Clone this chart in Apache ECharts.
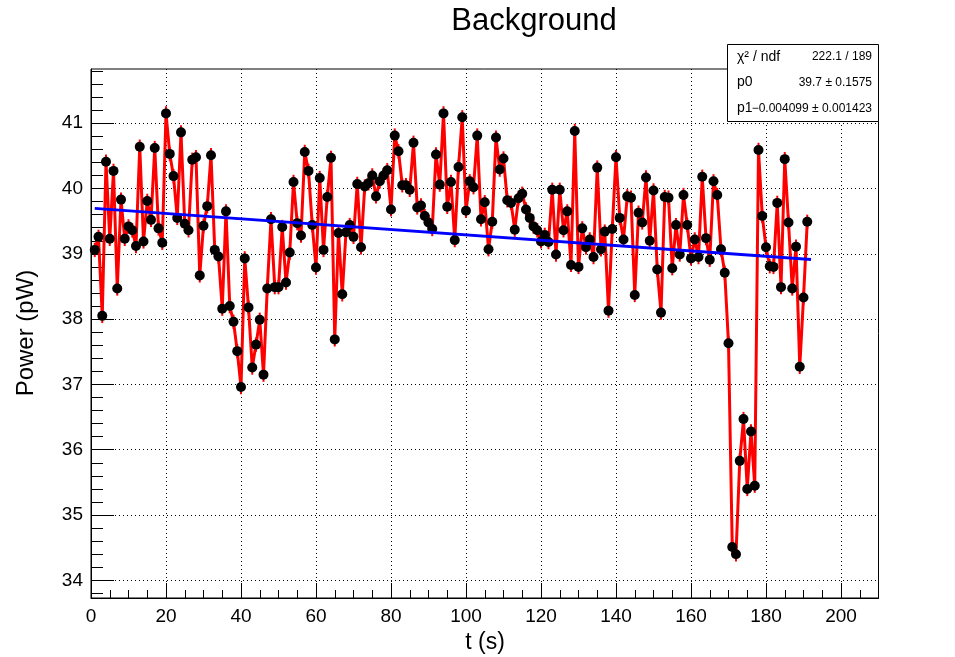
<!DOCTYPE html>
<html>
<head>
<meta charset="utf-8">
<script src="https://cdn.jsdelivr.net/npm/echarts@6/dist/echarts.min.js"></script>
<style>
  html, body { margin: 0; padding: 0; background: #fff; }
  #main { width: 955px; height: 657px; }
</style>
</head>
<body>
<div id="main"></div>
<script>
// measurement times (s)
var tValues = [
  1, 2, 3, 4, 5, 6, 7, 8, 9, 10, 11, 12, 13, 14, 15, 16, 17, 18, 19, 20,
  21, 22, 23, 24, 25, 26, 27, 28, 29, 30, 31, 32, 33, 34, 35, 36, 37, 38, 39, 40,
  41, 42, 43, 44, 45, 46, 47, 48, 49, 50, 51, 52, 53, 54, 55, 56, 57, 58, 59, 60,
  61, 62, 63, 64, 65, 66, 67, 68, 69, 70, 71, 72, 73, 74, 75, 76, 77, 78, 79, 80,
  81, 82, 83, 84, 85, 86, 87, 88, 89, 90, 91, 92, 93, 94, 95, 96, 97, 98, 99, 100,
  101, 102, 103, 104, 105, 106, 107, 108, 109, 110, 111, 112, 113, 114, 115, 116, 117, 118, 119, 120,
  121, 122, 123, 124, 125, 126, 127, 128, 129, 130, 131, 132, 133, 134, 135, 136, 137, 138, 139, 140,
  141, 142, 143, 144, 145, 146, 147, 148, 149, 150, 151, 152, 153, 154, 155, 156, 157, 158, 159, 160,
  161, 162, 163, 164, 165, 166, 167, 168, 169, 170, 171, 172, 173, 174, 175, 176, 177, 178, 179, 180,
  181, 182, 183, 184, 185, 186, 187, 188, 189, 190, 191
];
// power (pW)
var powerValues = [
  39.06, 39.26, 38.05, 40.41, 39.23, 40.27, 38.47, 39.83, 39.23, 39.42, 39.36, 39.12, 40.64, 39.19, 39.81, 39.52,
  40.62, 39.39, 39.17, 41.15, 40.53, 40.19, 39.55, 40.86, 39.46, 39.36, 40.44, 40.48, 38.67, 39.43, 39.73, 40.51,
  39.06, 38.96, 38.16, 39.65, 38.20, 37.96, 37.51, 36.96, 38.93, 38.18, 37.26, 37.61, 37.99, 37.15, 38.47, 39.53,
  38.49, 38.49, 39.41, 38.56, 39.02, 40.10, 39.47, 39.28, 40.56, 40.27, 39.44, 38.79, 40.16, 39.06, 39.87, 40.47,
  37.69, 39.32, 38.38, 39.33, 39.44, 39.26, 40.07, 39.10, 40.03, 40.08, 40.20, 39.88, 40.11, 40.20, 40.28, 39.68,
  40.81, 40.57, 40.05, 40.05, 39.98, 40.70, 39.71, 39.74, 39.58, 39.48, 39.38, 40.52, 40.06, 41.15, 39.72,
  40.10, 39.21, 40.33, 41.09, 39.66, 40.11, 40.02, 40.81, 39.53, 39.79, 39.07, 39.49, 40.78, 40.29, 40.46, 39.82,
  39.78, 39.37, 39.85, 39.92, 39.68, 39.55, 39.42, 39.36, 39.19, 39.29, 39.18, 39.98, 38.99, 39.98, 39.36, 39.65,
  38.83, 40.88, 38.80, 39.39, 39.10, 39.22, 38.95, 40.32, 39.07, 39.34, 38.13, 39.38, 40.48, 39.55, 39.22, 39.88,
  39.86, 38.37, 39.63, 39.48, 40.17, 39.20, 39.97, 38.76, 38.10, 39.87, 39.86, 38.78, 39.44, 38.99, 39.90, 39.44,
  38.93, 39.22, 38.95, 40.18, 39.24, 38.91, 40.11, 39.90, 39.07, 38.71, 37.63, 34.51, 34.40, 35.83, 36.47, 35.40,
  36.28, 35.45, 40.59, 39.58, 39.10, 38.81, 38.80, 39.78, 38.49, 40.45, 39.48, 38.47, 39.11, 37.27, 38.33, 39.49
];
var powerErr = 0.11;

// fit pol1: p0 + p1*t
var fitP0 = 39.7;
var fitP1 = -0.004099;
var fitRange = [1, 192];

var xTicks = [0, 20, 40, 60, 80, 100, 120, 140, 160, 180, 200];
var yTicks = [34, 35, 36, 37, 38, 39, 40, 41];
var xMin = 0, xMax = 210;
var yMin = 33.73, yMax = 41.83;

var statRows = [
  ['χ² / ndf', '222.1 / 189'],
  ['p0', '39.7 ± 0.1575'],
  ['p1', '−0.004099 ± 0.001423']
];

// minor tick positions
var xMinor = [];
for (var i = 0; i <= xMax; i += 5) xMinor.push(i);
var yMinor = [];
for (var k = 169; k <= 209; k++) yMinor.push(+(k * 0.2).toFixed(1));

var points = tValues.map(function (t, i) { return [t, powerValues[i]]; });
var fitLine = fitRange.map(function (t) { return [t, fitP0 + fitP1 * t]; });

var FONT = '"Liberation Sans", Arial, Helvetica, sans-serif';
var dotted = { color: '#000', width: 1, type: [1, 3] };

var chart = echarts.init(document.getElementById('main'));

var statGraphics = [{
  type: 'rect',
  shape: { x: 727.5, y: 44.5, width: 151, height: 77 },
  style: { fill: '#fff', stroke: '#000', lineWidth: 1 },
  z: 100
}];
statRows.forEach(function (row, i) {
  var y = 57 + i * 25.6;
  statGraphics.push({
    type: 'text', x: 737, y: y, z: 101,
    style: { text: row[0], font: '14px ' + FONT, fill: '#000', textAlign: 'left', textVerticalAlign: 'middle' }
  });
  statGraphics.push({
    type: 'text', x: 872, y: y, z: 101,
    style: { text: row[1], font: '12px ' + FONT, fill: '#000', textAlign: 'right', textVerticalAlign: 'middle' }
  });
});

var option = {
  animation: false,
  backgroundColor: '#fff',
  grid: {
    left: 91, right: 76.5, top: 69, bottom: 59,
    show: true, borderColor: '#000', borderWidth: 1, backgroundColor: 'transparent'
  },
  xAxis: [
    {
      type: 'value', min: xMin, max: xMax, position: 'bottom',
      axisLine: { show: true, lineStyle: { color: '#000', width: 1 } },
      axisTick: { show: true, inside: true, length: 15, customValues: xTicks, lineStyle: { color: '#000' } },
      axisLabel: { customValues: xTicks, color: '#000', fontSize: 19, fontFamily: FONT, margin: 9 },
      splitLine: { show: true, lineStyle: dotted }
    },
    {
      type: 'value', min: xMin, max: xMax, position: 'bottom', offset: 0,
      axisLine: { show: false },
      axisTick: { show: true, inside: true, length: 8, customValues: xMinor, lineStyle: { color: '#000' } },
      axisLabel: { show: false },
      splitLine: { show: false }
    }
  ],
  yAxis: [
    {
      type: 'value', min: yMin, max: yMax, position: 'left',
      axisLine: { show: true, lineStyle: { color: '#000', width: 1 } },
      axisTick: { show: true, inside: true, length: 23, customValues: yTicks, lineStyle: { color: '#000' } },
      axisLabel: { customValues: yTicks, color: '#000', fontSize: 19, fontFamily: FONT, margin: 8 },
      splitLine: { show: true, lineStyle: dotted }
    },
    {
      type: 'value', min: yMin, max: yMax, position: 'left', offset: 0,
      axisLine: { show: false },
      axisTick: { show: true, inside: true, length: 12, customValues: yMinor, lineStyle: { color: '#000' } },
      axisLabel: { show: false },
      splitLine: { show: false }
    }
  ],
  graphic: [
    {
      type: 'text', x: 534, y: 21,
      style: { text: 'Background', font: '31px ' + FONT, fill: '#000', textAlign: 'center', textVerticalAlign: 'middle' }
    },
    {
      type: 'text', x: 485, y: 643,
      style: { text: 't (s)', font: '23px ' + FONT, fill: '#000', textAlign: 'center', textVerticalAlign: 'middle' }
    },
    {
      type: 'text', x: 26, y: 333, rotation: Math.PI / 2,
      style: { text: 'Power (pW)', font: '24px ' + FONT, fill: '#000', textAlign: 'center', textVerticalAlign: 'middle' }
    }
  ].concat(statGraphics),
  series: [
    {
      name: 'errors',
      type: 'custom',
      xAxisIndex: 0, yAxisIndex: 0,
      data: points,
      z: 2,
      renderItem: function (params, api) {
        var t = api.value(0), v = api.value(1);
        var lo = api.coord([t, v - powerErr]);
        var hi = api.coord([t, v + powerErr]);
        return {
          type: 'line',
          shape: { x1: lo[0], y1: lo[1], x2: hi[0], y2: hi[1] },
          style: { stroke: '#ff0000', lineWidth: 2 }
        };
      }
    },
    {
      name: 'power',
      type: 'line',
      xAxisIndex: 0, yAxisIndex: 0,
      data: points,
      z: 3,
      symbol: 'circle',
      symbolSize: 10,
      showAllSymbol: true,
      itemStyle: { color: '#000' },
      lineStyle: { color: '#ff0000', width: 3 }
    },
    {
      name: 'fit',
      type: 'line',
      xAxisIndex: 0, yAxisIndex: 0,
      data: fitLine,
      z: 4,
      symbol: 'none',
      lineStyle: { color: '#0000ff', width: 3 }
    }
  ]
};

chart.setOption(option);
</script>
</body>
</html>
